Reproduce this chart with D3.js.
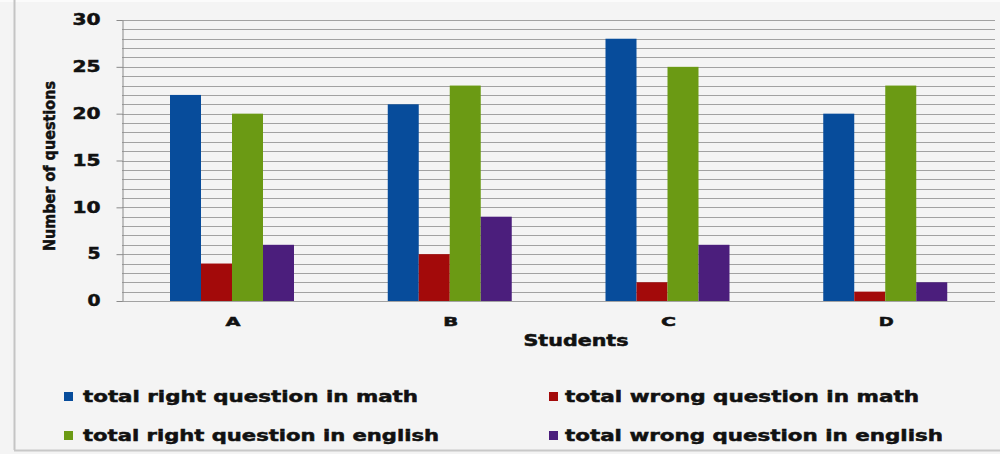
<!DOCTYPE html>
<html><head><meta charset="utf-8">
<script src="https://cdn.jsdelivr.net/npm/d3@7"></script>
<style>body{margin:0;background:#f4f4f4}svg{display:block}</style>
</head><body>
<script>
const categories = ["A","B","C","D"];
const seriesNames = ["total right question in math","total wrong question in math","total right question in english","total wrong question in english"];
const rightMath = [22,21,28,20];
const wrongMath = [4,5,2,1];
const rightEnglish = [20,23,25,23];
const wrongEnglish = [6,9,6,2];
const yTicks = [0,5,10,15,20,25,30];
const colors = ["#074c9b","#a30a0a","#6b9a14","#4b1e7c"];
const seriesValues = [rightMath, wrongMath, rightEnglish, wrongEnglish];

(function(){
const W=1000,H=454;
const svg=d3.select("body").append("svg").attr("width",W).attr("height",H);
svg.append("rect").attr("width",W).attr("height",H).attr("fill","#f4f4f4");
svg.append("rect").attr("width",W).attr("height",2).attr("fill","#fbfbfb");
svg.append("line").attr("x1",14.5).attr("x2",14.5).attr("y1",0).attr("y2",450).attr("stroke","#c4c4c4").attr("stroke-width",2);
svg.append("line").attr("x1",14).attr("x2",W).attr("y1",450.5).attr("y2",450.5).attr("stroke","#c8c8c8").attr("stroke-width",2);

const pLeft=122,pRight=995,pTop=20,pBottom=301;
const y=d3.scaleLinear().domain([0,30]).range([pBottom,pTop]);
const x0=d3.scaleBand().domain(categories).range([pLeft,993]).padding(0);
const x1=d3.scaleBand().domain(d3.range(4)).range([48,172]).padding(0);

// gridlines every 1 unit
svg.append("g").selectAll("line").data(d3.range(0,31)).join("line")
  .attr("x1",pLeft).attr("x2",pRight)
  .attr("y1",d=>Math.round(y(d))+0.5).attr("y2",d=>Math.round(y(d))+0.5)
  .attr("stroke","#a2a2a2").attr("stroke-width",1);

const bold = sel => sel.attr("font-family","DejaVu Sans").attr("font-weight","bold")
  .attr("fill","#111").attr("stroke","#111").attr("stroke-width",0.5);

// y axis
const yAxis=d3.axisLeft(y).tickValues(yTicks).tickSize(6).tickPadding(16).tickSizeOuter(0);
const ga=svg.append("g").attr("transform",`translate(${pLeft+0.5},0)`).call(yAxis);
ga.select(".domain").attr("stroke","#8a8a8a");
ga.selectAll(".tick line").attr("stroke","#8a8a8a");
ga.selectAll(".tick text").call(bold).attr("font-size","15px")
  .attr("textLength",d=>String(d).length===1?13:28).attr("lengthAdjust","spacingAndGlyphs");

// bars
const groups=svg.append("g").selectAll("g").data(categories).join("g")
  .attr("transform",d=>`translate(${x0(d)},0)`);
groups.selectAll("rect").data((c,i)=>seriesValues.map((s,k)=>({k,v:s[i]}))).join("rect")
  .attr("x",d=>x1(d.k)).attr("width",x1.bandwidth())
  .attr("y",d=>y(d.v)).attr("height",d=>y(0)-y(d.v))
  .attr("fill",d=>colors[d.k]);

// x labels
svg.append("g").selectAll("text").data(categories).join("text")
  .attr("x",d=>x0(d)+x0.bandwidth()/2+2).attr("y",326)
  .attr("text-anchor","middle").call(bold).attr("font-size","13px")
  .attr("textLength",15).attr("lengthAdjust","spacingAndGlyphs").text(d=>d);

svg.append("text").attr("x",576).attr("y",346).attr("text-anchor","middle")
  .call(bold).attr("font-size","15px")
  .attr("textLength",105).attr("lengthAdjust","spacingAndGlyphs").text("Students");

svg.append("text").attr("transform","translate(55,166) rotate(-90)").attr("text-anchor","middle")
  .call(bold).attr("font-size","15px")
  .attr("textLength",170).attr("lengthAdjust","spacingAndGlyphs").text("Number of questions");

// legend
const legPos=[{x:64,y:402,w:335},{x:549,y:402,w:354},{x:64,y:441,w:356},{x:549,y:441,w:378}];
const lg=svg.append("g").selectAll("g").data(seriesNames).join("g")
  .attr("transform",(d,i)=>`translate(${legPos[i].x},${legPos[i].y})`);
lg.append("rect").attr("x",0).attr("y",-10).attr("width",9).attr("height",9).attr("fill",(d,i)=>colors[i]);
lg.append("text").attr("x",(d,i)=>i%2?16:19).attr("y",0)
  .call(bold).attr("font-size","16px")
  .attr("textLength",(d,i)=>legPos[i].w).attr("lengthAdjust","spacingAndGlyphs").text(d=>d);
})();
</script>
</body></html>
